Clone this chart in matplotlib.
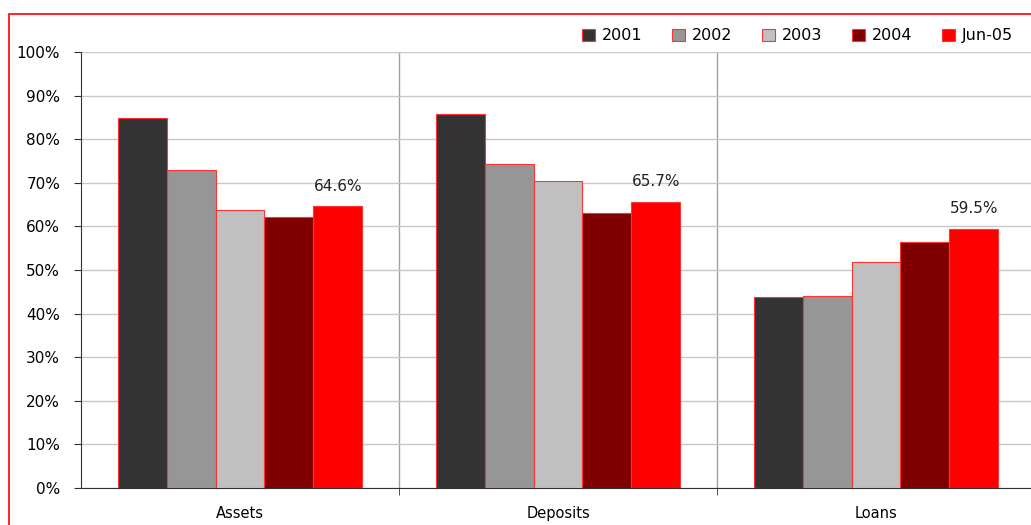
import matplotlib.pyplot as plt
from matplotlib.patches import Rectangle
from matplotlib.ticker import FuncFormatter, MultipleLocator
import numpy as np

categories = ["Assets", "Deposits", "Loans"]
periods = ["2001", "2002", "2003", "2004", "Jun-05"]
values = {
    "2001": [84.9, 85.8, 43.8],
    "2002": [72.9, 74.3, 44.0],
    "2003": [63.8, 70.4, 51.8],
    "2004": [62.2, 63.1, 56.4],
    "Jun-05": [64.6, 65.7, 59.5],
}
colors = ["#333333", "#969696", "#c0c0c0", "#800000", "#ff0000"]

fig = plt.figure(figsize=(10.31, 5.25), dpi=100)
ax = fig.add_axes([81 / 1031, 1 - 488 / 525, 954 / 1031, 436 / 525])

x = np.arange(len(categories))
width = 0.154
for i, (p, c) in enumerate(zip(periods, colors)):
    offs = (i - 2) * width
    ax.bar(x + offs, values[p], width, color=c, edgecolor="#ff3333",
           linewidth=0.8, label=p, zorder=3)
    if p == "Jun-05":
        for xi, v in zip(x + offs, values[p]):
            ax.text(xi, v + 2.8, f"{v:.1f}%", ha="center", va="bottom",
                    fontsize=11, color="#222222")

ax.set_xlim(-0.5, 2.5)
ax.set_ylim(0, 100)
ax.yaxis.set_major_locator(MultipleLocator(10))
ax.yaxis.set_major_formatter(FuncFormatter(lambda v, _: f"{v:.0f}%"))
ax.set_xticks(x)
ax.set_xticklabels(categories)
ax.set_xticks([0.5, 1.5], minor=True)
ax.tick_params(axis="x", which="major", length=0, pad=13, labelsize=10.5)
ax.tick_params(axis="x", which="minor", length=5, direction="out", color="#333333")
ax.tick_params(axis="y", length=5, color="#333333", labelsize=11, pad=10)
ax.grid(axis="y", color="#c8c8c8", linewidth=1, zorder=0)
for b in [0.5, 1.5]:
    ax.axvline(b, color="#a0a0a0", linewidth=1, zorder=1)
for s in ["top", "right"]:
    ax.spines[s].set_visible(False)
ax.spines["left"].set_color("#333333")
ax.spines["bottom"].set_color("#333333")

ax.legend(loc="upper right", bbox_to_anchor=(1027 / 1031, 1 - 14 / 525),
          bbox_transform=fig.transFigure, ncol=5, frameon=False,
          fontsize=11.5, handlelength=0.8, handleheight=0.8,
          handletextpad=0.4, columnspacing=1.9)

fig.patches.append(Rectangle((9 / 1031, -0.1), 1.2, 1 - 14 / 525 + 0.1,
                             transform=fig.transFigure, fill=False,
                             edgecolor="#ff0000", linewidth=1.2))

fig.savefig("out.png", dpi=100)
